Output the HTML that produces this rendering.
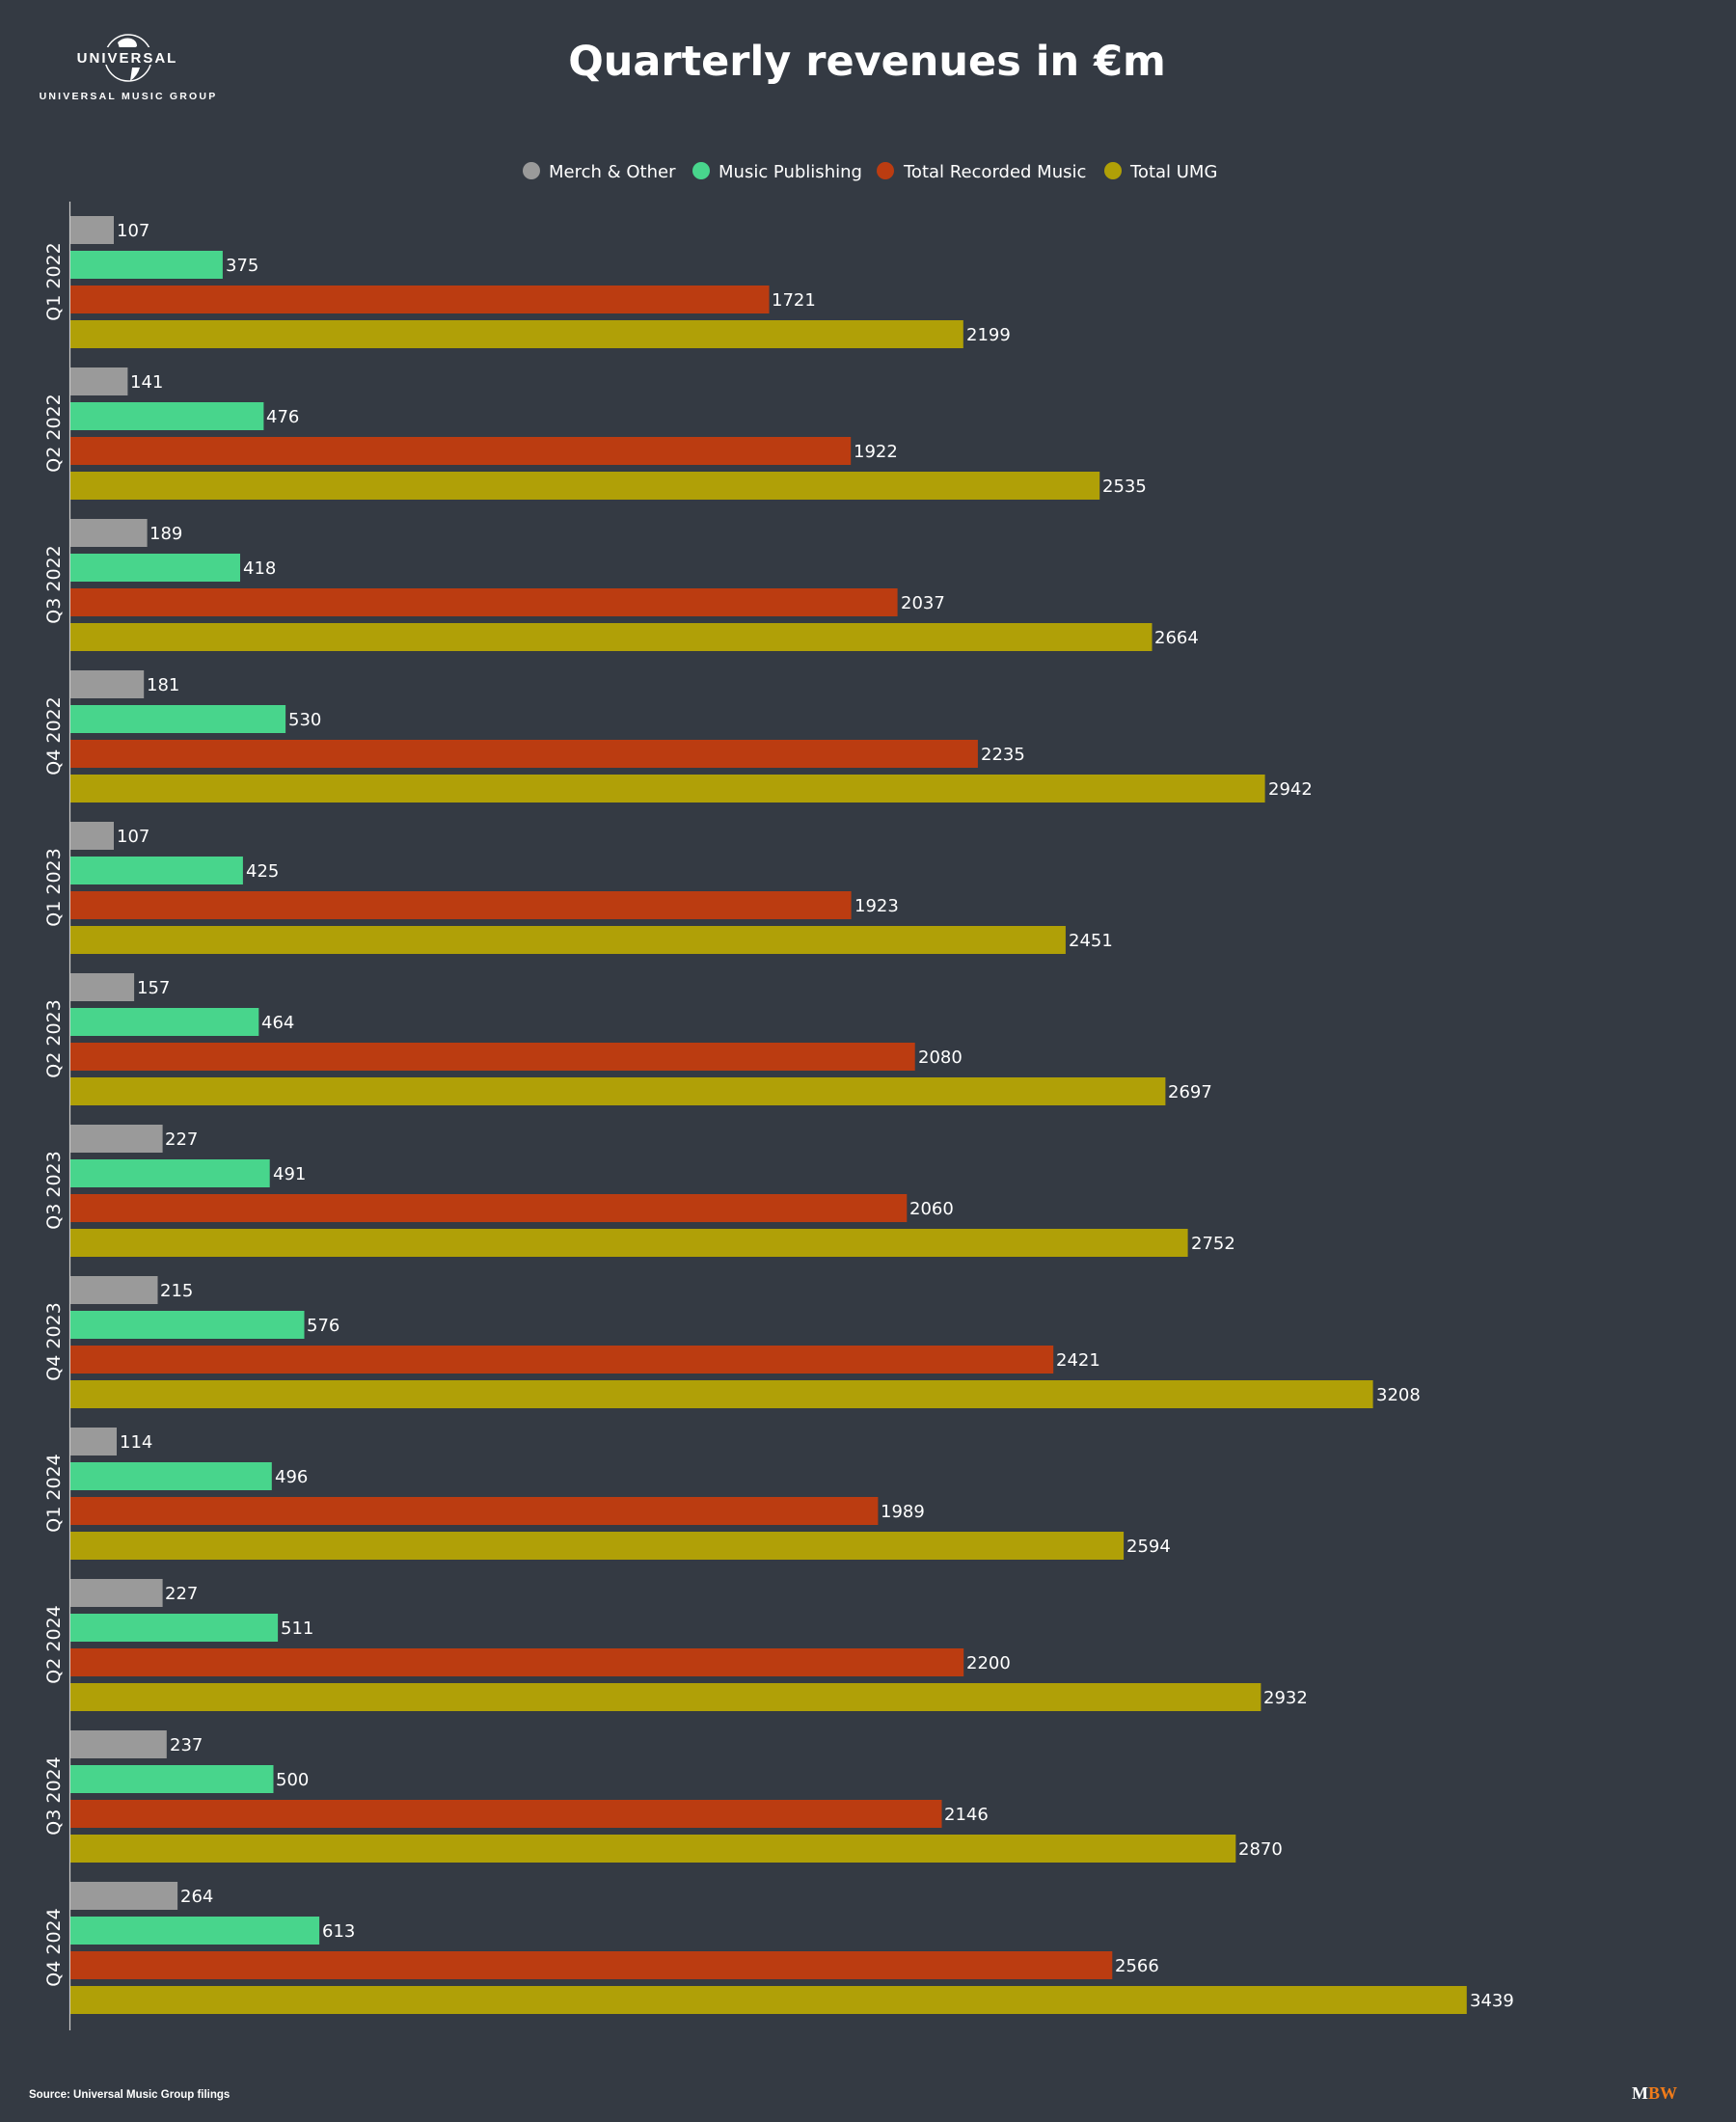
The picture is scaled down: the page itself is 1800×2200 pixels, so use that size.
<!DOCTYPE html>
<html><head><meta charset="utf-8"><style>
html,body{margin:0;padding:0;background:#343a43;}
svg{display:block;}
text{font-family:"DejaVu Sans","Liberation Sans",sans-serif;fill:#fff;}
.v{font-size:18px;}
.q{font-size:19px;}
</style></head><body>
<svg width="1800" height="2200" viewBox="0 0 1800 2200" xmlns="http://www.w3.org/2000/svg">
<rect width="1800" height="2200" fill="#343a43"/>
<!-- logo -->
<circle cx="133" cy="60" r="24" fill="none" stroke="#fff" stroke-width="1.5"/>
<path d="M122 44 q6 -6 14 -4 q6 2 6 8 l-5 3 q-8 -1 -12 2 z" fill="#fff"/>
<path d="M137 70 l8 0 q-2 8 -10 14 z" fill="#fff"/>
<rect x="78" y="49" width="108" height="18" fill="#343a43"/>
<text x="132" y="65" text-anchor="middle" style="font-family:'Liberation Sans',sans-serif;font-weight:bold;font-size:15px;letter-spacing:2px">UNIVERSAL</text>
<text x="133" y="103" text-anchor="middle" style="font-family:'Liberation Sans',sans-serif;font-weight:bold;font-size:10.5px;letter-spacing:2.2px">UNIVERSAL MUSIC GROUP</text>
<!-- title -->
<text x="899" y="78" text-anchor="middle" style="font-family:'DejaVu Sans',sans-serif;font-weight:bold;font-size:43px">Quarterly revenues in €m</text>
<!-- legend -->
<g style="font-size:18px">
<circle cx="551" cy="177" r="9" fill="#9a9a9a"/><text x="569" y="184">Merch &amp; Other</text>
<circle cx="727" cy="177" r="9" fill="#48d58c"/><text x="745" y="184">Music Publishing</text>
<circle cx="918" cy="177" r="9" fill="#bb3c11"/><text x="937" y="184">Total Recorded Music</text>
<circle cx="1154" cy="177" r="9" fill="#b0a007"/><text x="1172" y="184">Total UMG</text>
</g>
<line x1="72.5" y1="209" x2="72.5" y2="2105" stroke="#ccc" stroke-width="1.2"/>
<g id="bars">
<g transform="translate(0,224)"><rect x="73" y="0" width="45.0" height="29" fill="#9a9a9a"/><text class="v" x="121" y="21">107</text><rect x="73" y="36" width="157.9" height="29" fill="#48d58c"/><text class="v" x="234" y="57">375</text><rect x="73" y="72" width="724.5" height="29" fill="#bb3c11"/><text class="v" x="800" y="93">1721</text><rect x="73" y="108" width="925.8" height="29" fill="#b0a007"/><text class="v" x="1002" y="129">2199</text><text class="q" transform="translate(62,68) rotate(-90)" text-anchor="middle">Q1 2022</text></g>
<g transform="translate(0,381)"><rect x="73" y="0" width="59.4" height="29" fill="#9a9a9a"/><text class="v" x="135" y="21">141</text><rect x="73" y="36" width="200.4" height="29" fill="#48d58c"/><text class="v" x="276" y="57">476</text><rect x="73" y="72" width="809.2" height="29" fill="#bb3c11"/><text class="v" x="885" y="93">1922</text><rect x="73" y="108" width="1067.2" height="29" fill="#b0a007"/><text class="v" x="1143" y="129">2535</text><text class="q" transform="translate(62,68) rotate(-90)" text-anchor="middle">Q2 2022</text></g>
<g transform="translate(0,538)"><rect x="73" y="0" width="79.6" height="29" fill="#9a9a9a"/><text class="v" x="155" y="21">189</text><rect x="73" y="36" width="176.0" height="29" fill="#48d58c"/><text class="v" x="252" y="57">418</text><rect x="73" y="72" width="857.6" height="29" fill="#bb3c11"/><text class="v" x="934" y="93">2037</text><rect x="73" y="108" width="1121.5" height="29" fill="#b0a007"/><text class="v" x="1197" y="129">2664</text><text class="q" transform="translate(62,68) rotate(-90)" text-anchor="middle">Q3 2022</text></g>
<g transform="translate(0,695)"><rect x="73" y="0" width="76.2" height="29" fill="#9a9a9a"/><text class="v" x="152" y="21">181</text><rect x="73" y="36" width="223.1" height="29" fill="#48d58c"/><text class="v" x="299" y="57">530</text><rect x="73" y="72" width="940.9" height="29" fill="#bb3c11"/><text class="v" x="1017" y="93">2235</text><rect x="73" y="108" width="1238.6" height="29" fill="#b0a007"/><text class="v" x="1315" y="129">2942</text><text class="q" transform="translate(62,68) rotate(-90)" text-anchor="middle">Q4 2022</text></g>
<g transform="translate(0,852)"><rect x="73" y="0" width="45.0" height="29" fill="#9a9a9a"/><text class="v" x="121" y="21">107</text><rect x="73" y="36" width="178.9" height="29" fill="#48d58c"/><text class="v" x="255" y="57">425</text><rect x="73" y="72" width="809.6" height="29" fill="#bb3c11"/><text class="v" x="886" y="93">1923</text><rect x="73" y="108" width="1031.9" height="29" fill="#b0a007"/><text class="v" x="1108" y="129">2451</text><text class="q" transform="translate(62,68) rotate(-90)" text-anchor="middle">Q1 2023</text></g>
<g transform="translate(0,1009)"><rect x="73" y="0" width="66.1" height="29" fill="#9a9a9a"/><text class="v" x="142" y="21">157</text><rect x="73" y="36" width="195.3" height="29" fill="#48d58c"/><text class="v" x="271" y="57">464</text><rect x="73" y="72" width="875.7" height="29" fill="#bb3c11"/><text class="v" x="952" y="93">2080</text><rect x="73" y="108" width="1135.4" height="29" fill="#b0a007"/><text class="v" x="1211" y="129">2697</text><text class="q" transform="translate(62,68) rotate(-90)" text-anchor="middle">Q2 2023</text></g>
<g transform="translate(0,1166)"><rect x="73" y="0" width="95.6" height="29" fill="#9a9a9a"/><text class="v" x="171" y="21">227</text><rect x="73" y="36" width="206.7" height="29" fill="#48d58c"/><text class="v" x="283" y="57">491</text><rect x="73" y="72" width="867.3" height="29" fill="#bb3c11"/><text class="v" x="943" y="93">2060</text><rect x="73" y="108" width="1158.6" height="29" fill="#b0a007"/><text class="v" x="1235" y="129">2752</text><text class="q" transform="translate(62,68) rotate(-90)" text-anchor="middle">Q3 2023</text></g>
<g transform="translate(0,1323)"><rect x="73" y="0" width="90.5" height="29" fill="#9a9a9a"/><text class="v" x="166" y="21">215</text><rect x="73" y="36" width="242.5" height="29" fill="#48d58c"/><text class="v" x="318" y="57">576</text><rect x="73" y="72" width="1019.2" height="29" fill="#bb3c11"/><text class="v" x="1095" y="93">2421</text><rect x="73" y="108" width="1350.6" height="29" fill="#b0a007"/><text class="v" x="1427" y="129">3208</text><text class="q" transform="translate(62,68) rotate(-90)" text-anchor="middle">Q4 2023</text></g>
<g transform="translate(0,1480)"><rect x="73" y="0" width="48.0" height="29" fill="#9a9a9a"/><text class="v" x="124" y="21">114</text><rect x="73" y="36" width="208.8" height="29" fill="#48d58c"/><text class="v" x="285" y="57">496</text><rect x="73" y="72" width="837.4" height="29" fill="#bb3c11"/><text class="v" x="913" y="93">1989</text><rect x="73" y="108" width="1092.1" height="29" fill="#b0a007"/><text class="v" x="1168" y="129">2594</text><text class="q" transform="translate(62,68) rotate(-90)" text-anchor="middle">Q1 2024</text></g>
<g transform="translate(0,1637)"><rect x="73" y="0" width="95.6" height="29" fill="#9a9a9a"/><text class="v" x="171" y="21">227</text><rect x="73" y="36" width="215.1" height="29" fill="#48d58c"/><text class="v" x="291" y="57">511</text><rect x="73" y="72" width="926.2" height="29" fill="#bb3c11"/><text class="v" x="1002" y="93">2200</text><rect x="73" y="108" width="1234.4" height="29" fill="#b0a007"/><text class="v" x="1310" y="129">2932</text><text class="q" transform="translate(62,68) rotate(-90)" text-anchor="middle">Q2 2024</text></g>
<g transform="translate(0,1794)"><rect x="73" y="0" width="99.8" height="29" fill="#9a9a9a"/><text class="v" x="176" y="21">237</text><rect x="73" y="36" width="210.5" height="29" fill="#48d58c"/><text class="v" x="286" y="57">500</text><rect x="73" y="72" width="903.5" height="29" fill="#bb3c11"/><text class="v" x="979" y="93">2146</text><rect x="73" y="108" width="1208.3" height="29" fill="#b0a007"/><text class="v" x="1284" y="129">2870</text><text class="q" transform="translate(62,68) rotate(-90)" text-anchor="middle">Q3 2024</text></g>
<g transform="translate(0,1951)"><rect x="73" y="0" width="111.1" height="29" fill="#9a9a9a"/><text class="v" x="187" y="21">264</text><rect x="73" y="36" width="258.1" height="29" fill="#48d58c"/><text class="v" x="334" y="57">613</text><rect x="73" y="72" width="1080.3" height="29" fill="#bb3c11"/><text class="v" x="1156" y="93">2566</text><rect x="73" y="108" width="1447.8" height="29" fill="#b0a007"/><text class="v" x="1524" y="129">3439</text><text class="q" transform="translate(62,68) rotate(-90)" text-anchor="middle">Q4 2024</text></g>
</g>
<text x="30" y="2175" style="font-family:'Liberation Sans',sans-serif;font-size:11.5px;font-weight:bold">Source: Universal Music Group filings</text>
<text x="1692" y="2176" style="font-family:'Liberation Serif',serif;font-size:18px;font-weight:bold"><tspan fill="#fff">M</tspan><tspan fill="#f07b1a">BW</tspan></text>
</svg>
</body></html>
